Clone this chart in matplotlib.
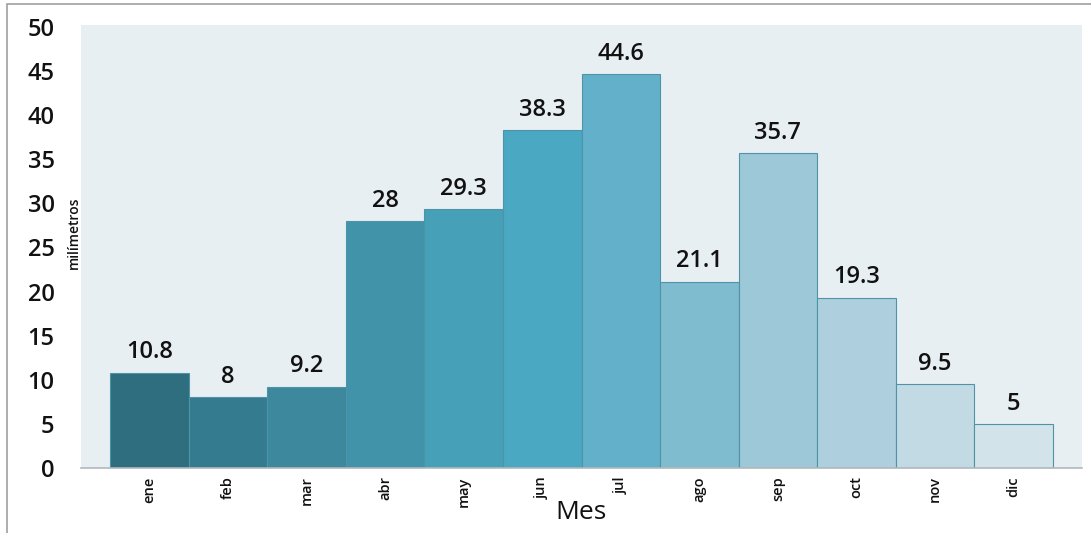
import matplotlib
matplotlib.use("Agg")
import matplotlib.pyplot as plt
from matplotlib.patches import Rectangle

months = ["ene", "feb", "mar", "abr", "may", "jun", "jul", "ago", "sep", "oct", "nov", "dic"]
rain_mm = [10.8, 8, 9.2, 28, 29.3, 38.3, 44.6, 21.1, 35.7, 19.3, 9.5, 5]
value_labels = ["10.8", "8", "9.2", "28", "29.3", "38.3", "44.6", "21.1", "35.7", "19.3", "9.5", "5"]
bar_colors = ["#2e6e7e", "#357b8f", "#3d889c", "#4193aa", "#45a0b8", "#4aa8c2",
              "#62b0c9", "#80bccf", "#9cc8d8", "#aed0de", "#c2dae4", "#d3e3ea"]
yticks = [0, 5, 10, 15, 20, 25, 30, 35, 40, 45, 50]

plt.rcParams['font.family'] = ['Open Sans', 'DejaVu Sans']

W, H = 1091, 533
fig = plt.figure(figsize=(W / 100, H / 100), dpi=100)
fig.patch.set_facecolor("white")

ax = fig.add_axes([81 / W, (H - 468) / H, (1082 - 81) / W, (468 - 25) / H])
ax.set_facecolor("#e8eff3")

x = list(range(len(months)))
ax.bar(x, rain_mm, width=1.0, color=bar_colors, edgecolor="#4f93a6", linewidth=0.8, zorder=2)

for xi, v, lab in zip(x, rain_mm, value_labels):
    ax.annotate(lab, (xi, v), xytext=(0, 6), textcoords="offset points",
                ha="center", va="bottom", fontsize=17, color="#111111", fontweight="semibold")

ax.set_xlim(-0.5 - 0.37, 11.5 + 0.37)
ax.set_ylim(0, 50.2)
ax.set_yticks(yticks)
ax.set_yticklabels([str(t) for t in yticks], fontsize=17, fontweight="semibold")
ax.tick_params(axis="y", length=0, pad=19, colors="#111111")
ax.set_xticks(x)
ax.set_xticklabels(months, rotation=90, fontsize=10.5, va="top", ha="center", fontweight="semibold")
ax.tick_params(axis="x", length=0, pad=6, colors="#111111")

for s in ["top", "right", "left"]:
    ax.spines[s].set_visible(False)
ax.spines["bottom"].set_color("#b0b8bc")
ax.spines["bottom"].set_linewidth(1.2)

ax.set_xlabel("Mes", fontsize=19, color="#111111")
ax.xaxis.set_label_coords(0.5, -0.072)
ax.set_ylabel("milímetros", fontsize=10, color="#111111", fontweight="semibold")
ax.yaxis.set_label_coords(0.0, 0.53)

# outer frame lines (top and left)
fig.add_artist(Rectangle((7 / W, -0.1), 1.2, 1.1 - 4 / H, transform=fig.transFigure,
                         fill=False, edgecolor="#a0a0a0", linewidth=1.2))

fig.savefig("out.png", dpi=100)
